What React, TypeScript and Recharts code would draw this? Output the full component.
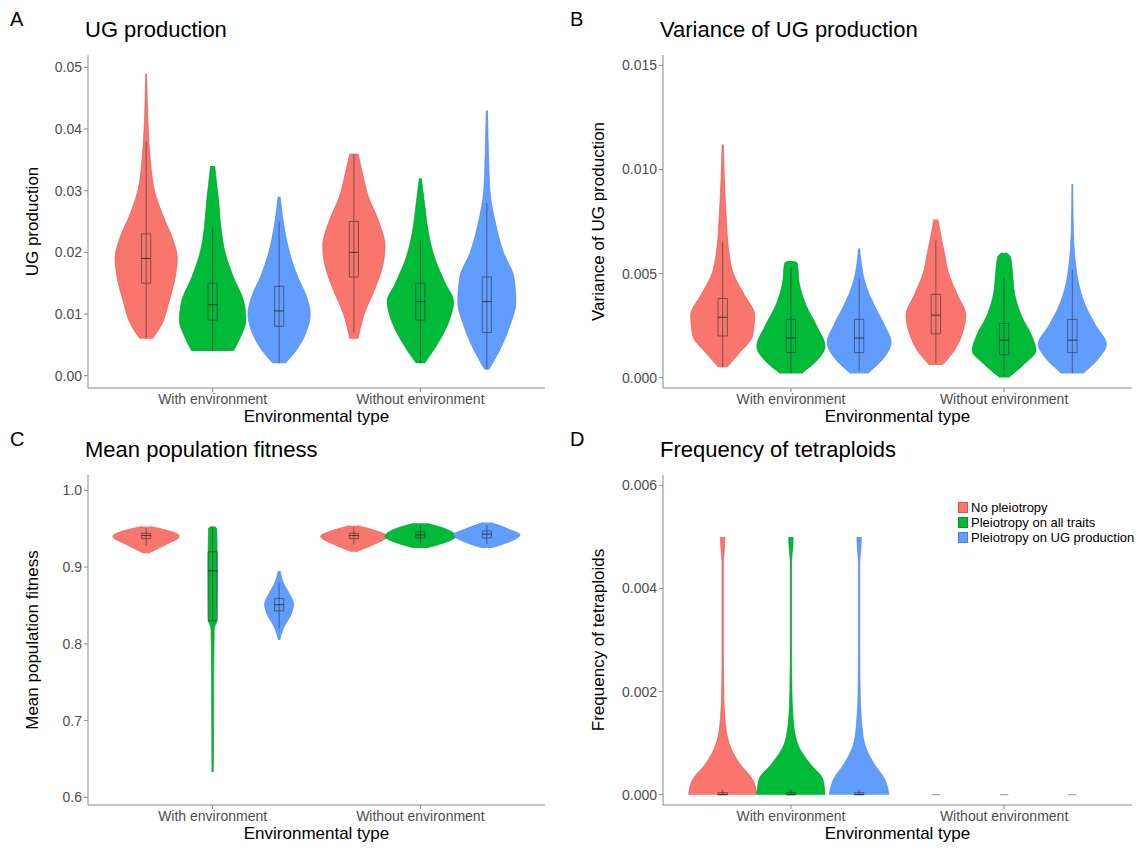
import {
  ComposedChart,
  Area,
  XAxis,
  YAxis,
  ReferenceArea,
  ReferenceLine,
} from "recharts";

const COLORS = ["#F8766D", "#00BA38", "#619CFF"];
const STROKES = ["#d9534a", "#00962c", "#4a7fd9"];
const SERIES_NAMES = ["No pleiotropy", "Pleiotropy on all traits", "Pleiotropy on UG production"];
const CATEGORIES = ["With environment", "Without environment"];
const POSITIONS = [0.68, 1, 1.32, 1.68, 2, 2.32];

// each violin: [value, half width in x units]
const ugViolins: number[][][] = [
  [[0.006, 0.03], [0.008, 0.07], [0.012, 0.11], [0.016, 0.14], [0.019, 0.15], [0.022, 0.13], [0.026, 0.08], [0.03, 0.04], [0.035, 0.02], [0.04, 0.01], [0.045, 0.005], [0.049, 0.002]],
  [[0.004, 0.1], [0.006, 0.13], [0.009, 0.16], [0.012, 0.15], [0.016, 0.1], [0.02, 0.06], [0.024, 0.04], [0.028, 0.03], [0.031, 0.02], [0.034, 0.01]],
  [[0.002, 0.03], [0.004, 0.08], [0.007, 0.13], [0.01, 0.15], [0.013, 0.13], [0.016, 0.09], [0.02, 0.05], [0.025, 0.02], [0.029, 0.005]],
  [[0.006, 0.02], [0.01, 0.05], [0.014, 0.1], [0.018, 0.14], [0.021, 0.15], [0.025, 0.12], [0.029, 0.07], [0.033, 0.04], [0.036, 0.02]],
  [[0.002, 0.02], [0.005, 0.08], [0.009, 0.14], [0.012, 0.16], [0.015, 0.12], [0.019, 0.07], [0.023, 0.04], [0.028, 0.02], [0.032, 0.005]],
  [[0.001, 0.01], [0.004, 0.06], [0.008, 0.11], [0.012, 0.14], [0.016, 0.13], [0.02, 0.08], [0.025, 0.04], [0.03, 0.015], [0.036, 0.008], [0.043, 0.003]],
];
// [whiskerLow, q1, median, q3, whiskerHigh]
const ugBoxes = [
  [0.006, 0.015, 0.019, 0.023, 0.038],
  [0.004, 0.009, 0.0115, 0.015, 0.024],
  [0.002, 0.008, 0.0105, 0.0145, 0.025],
  [0.007, 0.016, 0.02, 0.025, 0.036],
  [0.002, 0.009, 0.012, 0.015, 0.022],
  [0.001, 0.007, 0.012, 0.016, 0.028],
];

const varViolins: number[][][] = [
  [[0.0005, 0.02], [0.0012, 0.08], [0.002, 0.14], [0.003, 0.15], [0.004, 0.1], [0.005, 0.05], [0.006, 0.03], [0.008, 0.015], [0.0095, 0.008], [0.0112, 0.003]],
  [[0.0002, 0.05], [0.0008, 0.12], [0.0015, 0.16], [0.0025, 0.12], [0.0035, 0.07], [0.0045, 0.04], [0.0055, 0.03], [0.0056, 0.01]],
  [[0.0002, 0.04], [0.001, 0.12], [0.0017, 0.15], [0.0025, 0.12], [0.0035, 0.07], [0.0045, 0.03], [0.0055, 0.01], [0.0062, 0.003]],
  [[0.0006, 0.03], [0.0012, 0.08], [0.002, 0.12], [0.003, 0.14], [0.004, 0.1], [0.005, 0.06], [0.006, 0.04], [0.007, 0.02], [0.0076, 0.01]],
  [[0.0, 0.02], [0.0007, 0.1], [0.0013, 0.15], [0.002, 0.13], [0.003, 0.08], [0.004, 0.05], [0.005, 0.04], [0.0058, 0.03], [0.006, 0.01]],
  [[0.0002, 0.05], [0.001, 0.13], [0.0016, 0.16], [0.0025, 0.11], [0.0035, 0.06], [0.0045, 0.03], [0.0055, 0.015], [0.007, 0.005], [0.0093, 0.002]],
];
const varBoxes = [
  [0.0005, 0.002, 0.0029, 0.0038, 0.0065],
  [0.0002, 0.0012, 0.0019, 0.0028, 0.0053],
  [0.0003, 0.0012, 0.0019, 0.0028, 0.0048],
  [0.0007, 0.0021, 0.003, 0.004, 0.0066],
  [0.0001, 0.0011, 0.0018, 0.0026, 0.0048],
  [0.0002, 0.0012, 0.0018, 0.0028, 0.0052],
];

const fitViolins: number[][][] = [
  [[0.918, 0.01], [0.93, 0.1], [0.94, 0.16], [0.948, 0.1], [0.953, 0.02]],
  [[0.633, 0.003], [0.66, 0.004], [0.75, 0.005], [0.82, 0.008], [0.83, 0.02], [0.9, 0.022], [0.95, 0.02], [0.953, 0.01]],
  [[0.805, 0.003], [0.82, 0.02], [0.84, 0.06], [0.852, 0.07], [0.865, 0.05], [0.88, 0.02], [0.895, 0.005]],
  [[0.92, 0.01], [0.93, 0.1], [0.94, 0.16], [0.948, 0.1], [0.954, 0.02]],
  [[0.925, 0.03], [0.932, 0.12], [0.94, 0.17], [0.95, 0.12], [0.957, 0.03]],
  [[0.925, 0.02], [0.932, 0.1], [0.942, 0.16], [0.95, 0.1], [0.958, 0.02]],
];
const fitBoxes = [
  [0.928, 0.937, 0.941, 0.944, 0.951],
  [0.83, 0.83, 0.895, 0.92, 0.953],
  [0.82, 0.843, 0.851, 0.859, 0.88],
  [0.929, 0.937, 0.941, 0.944, 0.952],
  [0.93, 0.938, 0.942, 0.946, 0.954],
  [0.93, 0.938, 0.943, 0.947, 0.955],
];

const tetViolins: number[][][] = [
  [[0, 0.16], [0.0003, 0.14], [0.0006, 0.08], [0.001, 0.03], [0.0015, 0.01], [0.002, 0.005], [0.003, 0.003], [0.0045, 0.003], [0.0049, 0.01], [0.005, 0.01]],
  [[0, 0.16], [0.0003, 0.15], [0.0006, 0.09], [0.001, 0.03], [0.0015, 0.01], [0.002, 0.005], [0.003, 0.003], [0.0045, 0.003], [0.0049, 0.01], [0.005, 0.01]],
  [[0, 0.14], [0.0003, 0.12], [0.0006, 0.07], [0.001, 0.025], [0.0015, 0.01], [0.002, 0.005], [0.003, 0.003], [0.0045, 0.003], [0.0049, 0.01], [0.005, 0.01]],
  [],
  [],
  [],
];
const tetBoxes = [
  [0, 0, 0, 0.00004, 0.0001],
  [0, 0, 0, 0.00004, 0.0001],
  [0, 0, 0, 0.00004, 0.0001],
  [0, 0, 0, 0, 0],
  [0, 0, 0, 0, 0],
  [0, 0, 0, 0, 0],
];

const ugTicks = [0, 0.01, 0.02, 0.03, 0.04, 0.05];
const varTicks = [0, 0.005, 0.01, 0.015];
const fitTicks = [0.6, 0.7, 0.8, 0.9, 1.0];
const tetTicks = [0, 0.002, 0.004, 0.006];

const FONT = "'Liberation Sans', Arial, sans-serif";
const tickStyle = { fontSize: 14, fill: "#4d4d4d", fontFamily: FONT };

function violinRows(v: number[][], i: number) {
  return v.map((p) => ({ y: p[0], r: [POSITIONS[i] - p[1], POSITIONS[i] + p[1]] }));
}

interface PanelProps {
  left: number;
  top: number;
  width: number;
  height: number;
  yWidth: number;
  labelOffset: number;
  violins: number[][][];
  boxes: number[][];
  ticks: number[];
  domain: [number, number];
  digits: number;
  yLabel: string;
  title: string;
  tinyMarks?: boolean;
}

function Panel(p: PanelProps) {
  const axisRows = p.ticks.map((y) => ({ y }));
  return (
    <div style={{ position: "absolute", left: p.left, top: p.top, width: p.width, height: p.height + 30 }}>
      <ComposedChart
        layout="vertical"
        width={p.width}
        height={p.height}
        data={axisRows}
        margin={{ top: 10, right: 4, bottom: 0, left: 0 }}
      >
        <XAxis
          type="number"
          domain={[0.4, 2.6]}
          ticks={[1, 2]}
          tickFormatter={(v) => CATEGORIES[v - 1]}
          tick={tickStyle}
          stroke="#888"
          tickSize={4}
          height={25}
        />
        <YAxis
          type="number"
          dataKey="y"
          domain={p.domain}
          ticks={p.ticks}
          reversed
          allowDataOverflow
          tickFormatter={(v) => v.toFixed(p.digits)}
          tick={tickStyle}
          stroke="#888"
          tickSize={4}
          width={p.yWidth}
          label={{
            value: p.yLabel,
            angle: -90,
            position: "insideLeft",
            offset: p.labelOffset,
            style: { fontSize: 17, fill: "#000", fontFamily: FONT, textAnchor: "middle" },
          }}
        />
        {p.violins.map((v, i) =>
          v.length ? (
            <Area
              key={"v" + i}
              data={violinRows(v, i)}
              dataKey="r"
              type="monotone"
              fill={COLORS[i % 3]}
              fillOpacity={1}
              stroke={STROKES[i % 3]}
              strokeWidth={0.6}
              isAnimationActive={false}
              dot={false}
              activeDot={false}
            />
          ) : null
        )}
        {p.boxes.map((b, i) => {
          const x = POSITIONS[i];
          if (p.tinyMarks && i >= 3) {
            return (
              <ReferenceLine
                key={"m" + i}
                segment={[{ x: x - 0.02, y: 0 }, { x: x + 0.02, y: 0 }]}
                stroke="#999"
                strokeWidth={1}
              />
            );
          }
          return [
            <ReferenceLine
              key={"w" + i}
              segment={[{ x, y: b[0] }, { x, y: b[4] }]}
              stroke="#333"
              strokeWidth={0.6}
            />,
            <ReferenceArea
              key={"b" + i}
              x1={x - 0.022}
              x2={x + 0.022}
              y1={b[1]}
              y2={b[3]}
              fill="none"
              fillOpacity={0}
              stroke="#333"
              strokeWidth={0.6}
            />,
            <ReferenceLine
              key={"md" + i}
              segment={[{ x: x - 0.022, y: b[2] }, { x: x + 0.022, y: b[2] }]}
              stroke="#222"
              strokeWidth={0.8}
            />,
          ];
        })}
      </ComposedChart>
      <div style={{ position: "absolute", left: p.yWidth - 3, top: -28, fontSize: 22, fontFamily: FONT }}>
        {p.title}
      </div>
      <div
        style={{
          position: "absolute",
          left: p.yWidth,
          right: 4,
          top: p.height - 6,
          textAlign: "center",
          fontSize: 17,
          fontFamily: FONT,
        }}
      >
        Environmental type
      </div>
    </div>
  );
}

function Letter({ x, y, t }: { x: number; y: number; t: string }) {
  return (
    <div style={{ position: "absolute", left: x, top: y, fontSize: 20, fontFamily: FONT }}>{t}</div>
  );
}

export default function App() {
  return (
    <div style={{ position: "absolute", left: 0, top: 0, width: 1136, height: 849, background: "#fff", overflow: "hidden" }}>
      <Panel left={0} top={45} width={549} height={368} yWidth={88} labelOffset={32} violins={ugViolins} boxes={ugBoxes}
        ticks={ugTicks} domain={[-0.002, 0.052]} digits={2} yLabel="UG production" title="UG production" />
      <Panel left={575} top={45} width={561} height={368} yWidth={88} labelOffset={23} violins={varViolins} boxes={varBoxes}
        ticks={varTicks} domain={[-0.0005, 0.0155]} digits={3} yLabel="Variance of UG production" title="Variance of UG production" />
      <Panel left={0} top={465} width={549} height={365} yWidth={88} labelOffset={32} violins={fitViolins} boxes={fitBoxes}
        ticks={fitTicks} domain={[0.59, 1.02]} digits={1} yLabel="Mean population fitness" title="Mean population fitness" />
      <Panel left={575} top={465} width={561} height={365} yWidth={88} labelOffset={23} violins={tetViolins} boxes={tetBoxes}
        ticks={tetTicks} domain={[-0.0002, 0.0062]} digits={3} yLabel="Frequency of tetraploids" title="Frequency of tetraploids" tinyMarks />
      <Letter x={10} y={8} t="A" />
      <Letter x={570} y={8} t="B" />
      <Letter x={10} y={428} t="C" />
      <Letter x={570} y={428} t="D" />
      <div style={{ position: "absolute", left: 958, top: 500, fontFamily: FONT, fontSize: 13 }}>
        {SERIES_NAMES.map((n, i) => (
          <div key={n} style={{ display: "flex", alignItems: "center", height: 15 }}>
            <span style={{ width: 10, height: 11, background: COLORS[i], border: "1px solid " + STROKES[i], marginRight: 3, boxSizing: "border-box" }} />
            {n}
          </div>
        ))}
      </div>
    </div>
  );
}
